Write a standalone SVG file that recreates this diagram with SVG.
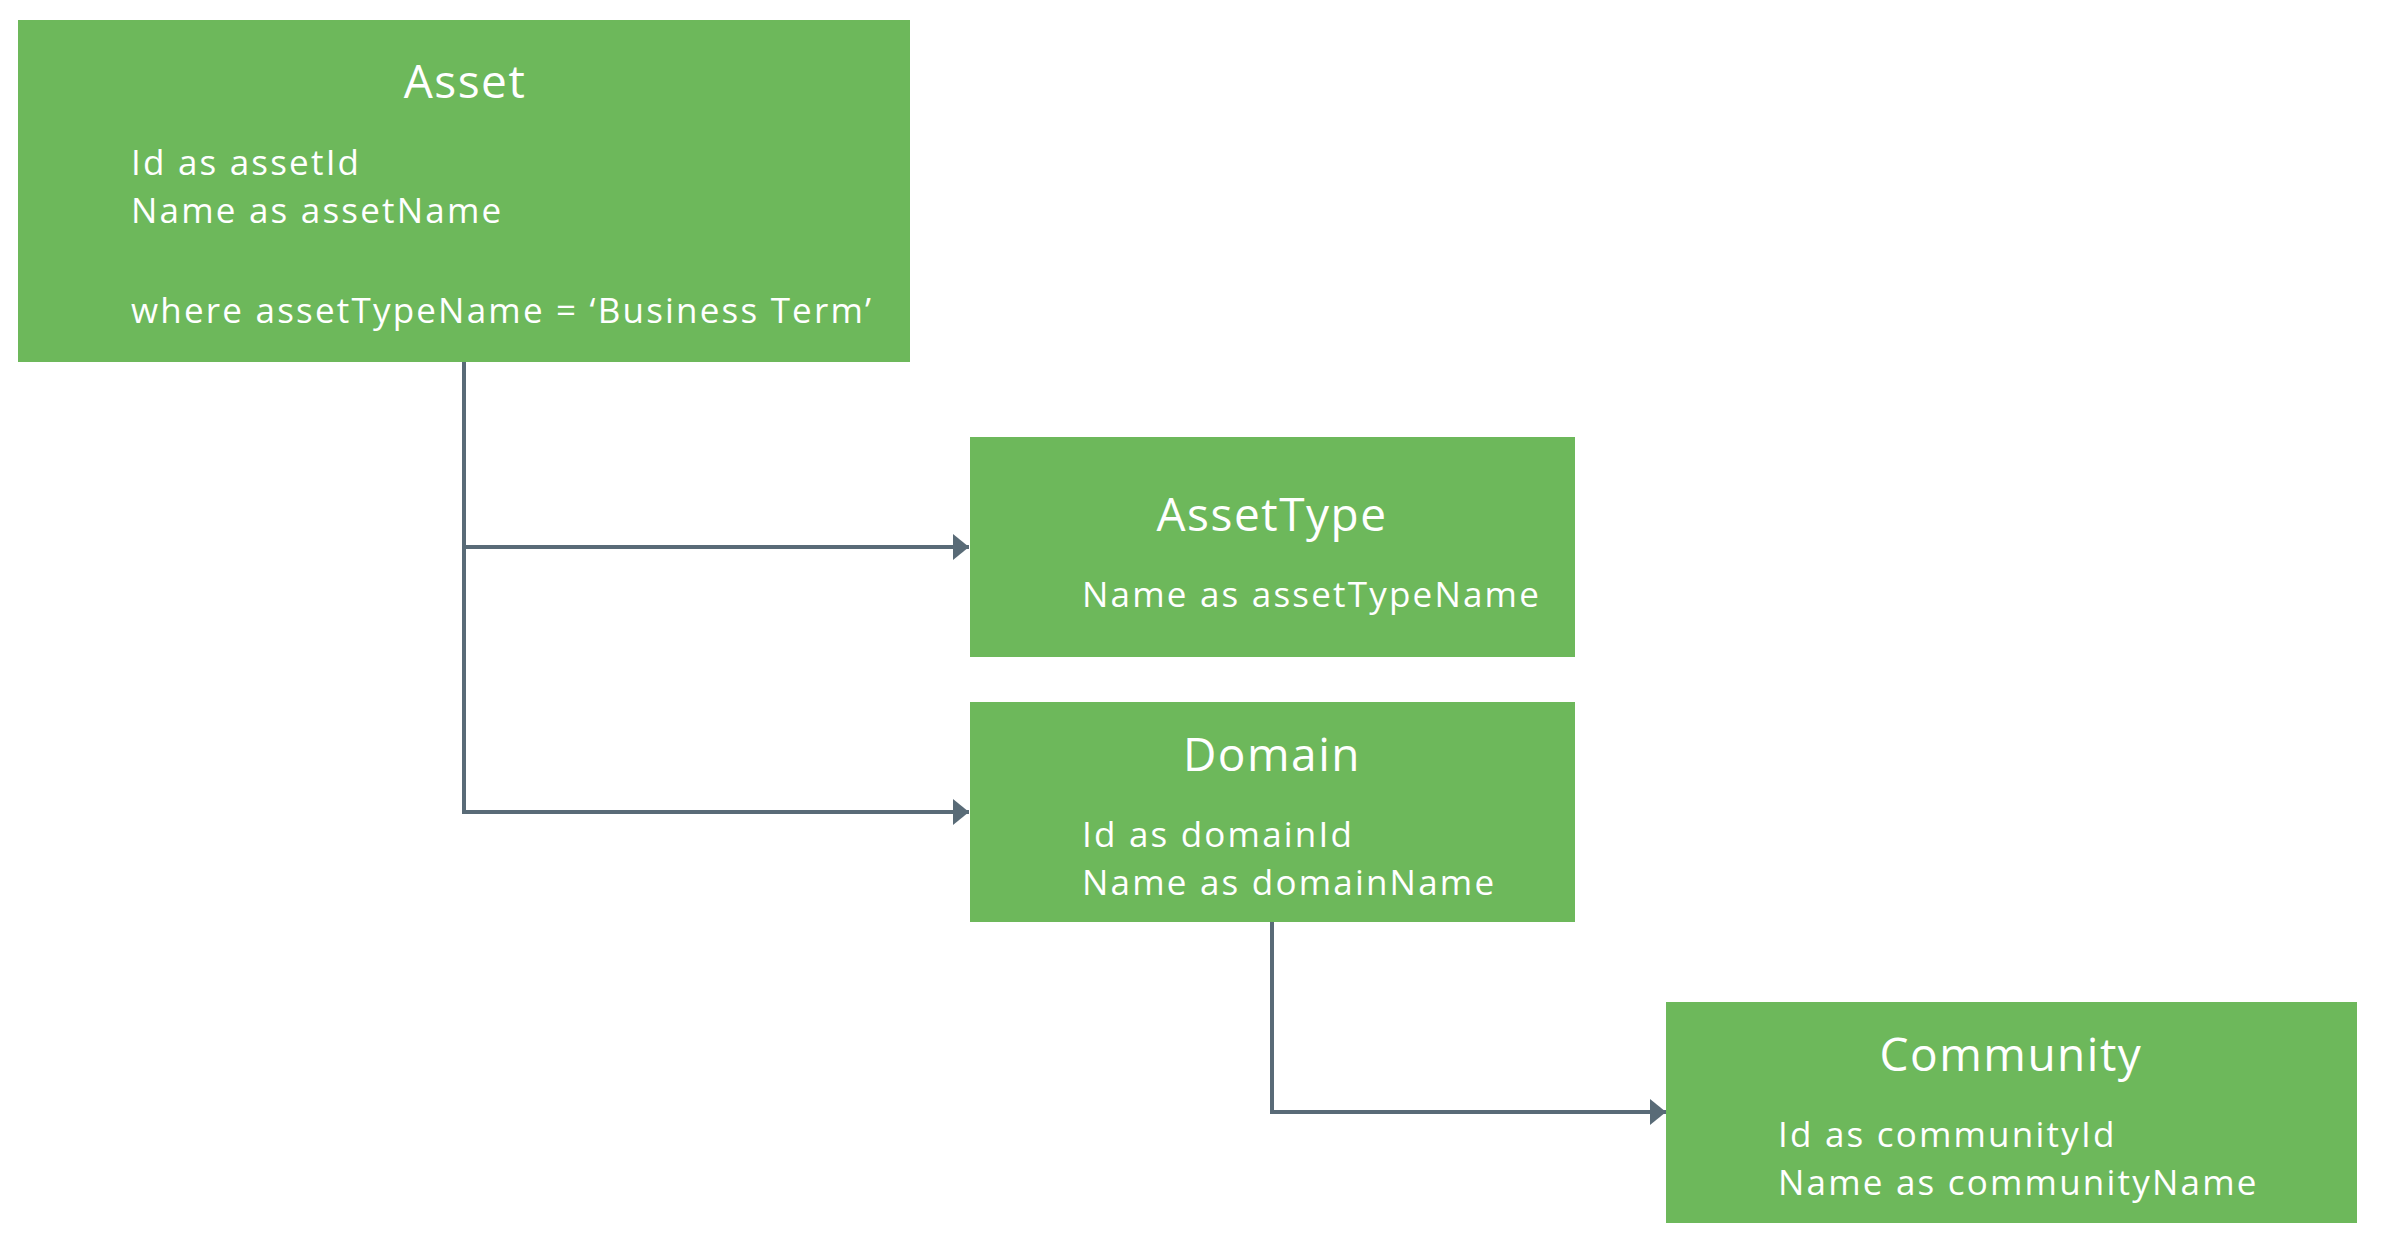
<svg xmlns="http://www.w3.org/2000/svg" width="2398" height="1254" viewBox="0 0 2398 1254">
<style>
.box{fill:#6db85b}
.title{font-family:"Open Sans",Lato,"Liberation Sans",sans-serif;font-size:46px;letter-spacing:1.5px;fill:#fff;text-anchor:middle}
.body{font-family:"Open Sans",Lato,"Liberation Sans",sans-serif;font-size:35px;letter-spacing:2.2px;fill:#fff}
.conn{fill:none;stroke:#596b77;stroke-width:4}
</style>
<defs>
<marker id="arrow" viewBox="0 0 16 26" refX="16" refY="13" markerWidth="16" markerHeight="26" markerUnits="userSpaceOnUse" orient="auto">
<path d="M0,0 L16,13 L0,26 Z" fill="#596b77"/>
</marker>
</defs>
<rect width="2398" height="1254" fill="#fff"/>
<g id="connectors">
<path class="conn" d="M464,362 V812 H969" marker-end="url(#arrow)"/>
<path class="conn" d="M464,547 H969" marker-end="url(#arrow)"/>
<path class="conn" d="M1272,922 V1112 H1666" marker-end="url(#arrow)"/>
</g>
<g id="asset">
<rect class="box" x="18" y="20" width="892" height="342"/>
<text class="title" x="465" y="98">Asset</text>
<text class="body" x="131" y="175">Id as assetId</text>
<text class="body" x="131" y="223">Name as assetName</text>
<text class="body" x="131" y="323">where assetTypeName = ‘Business Term’</text>
</g>
<g id="assettype">
<rect class="box" x="970" y="437" width="605" height="220"/>
<text class="title" x="1272" y="531">AssetType</text>
<text class="body" x="1082" y="607">Name as assetTypeName</text>
</g>
<g id="domain">
<rect class="box" x="970" y="702" width="605" height="220"/>
<text class="title" x="1272" y="771">Domain</text>
<text class="body" x="1082" y="847">Id as domainId</text>
<text class="body" x="1082" y="895">Name as domainName</text>
</g>
<g id="community">
<rect class="box" x="1666" y="1002" width="691" height="221"/>
<text class="title" x="2011" y="1071">Community</text>
<text class="body" x="1778" y="1147">Id as communityId</text>
<text class="body" x="1778" y="1195">Name as communityName</text>
</g>
</svg>
